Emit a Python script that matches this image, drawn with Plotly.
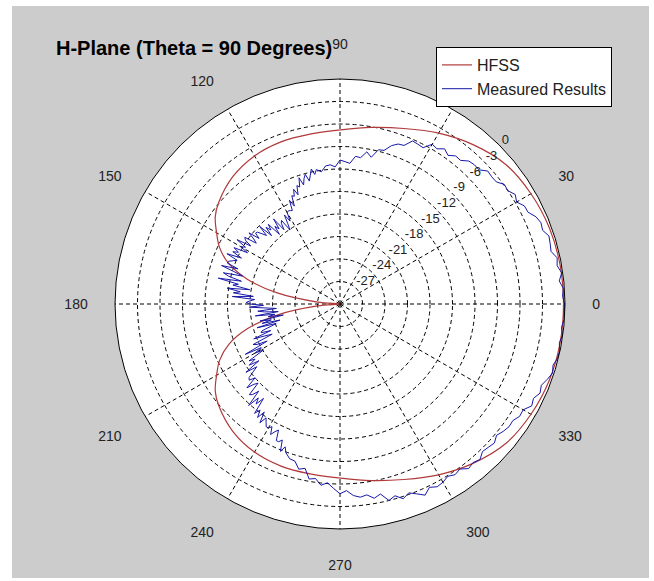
import plotly.graph_objects as go

# ---------------- data ----------------
angle_ticks = [0, 30, 60, 90, 120, 150, 180, 210, 240, 270, 300, 330]
# the 60 label sits under the legend box in the reference, so it is left blank
angle_labels = ["0", "30", "", "90", "120", "150", "180", "210", "240", "270", "300", "330"]
radial_ticks = [0, -3, -6, -9, -12, -15, -18, -21, -24, -27]
radial_labels = ["0", "-3", "-6", "-9", "-12", "-15", "-18", "-21", "-24", "-27"]
radial_label_angle = [44] * len(radial_ticks)

hfss_deg = [0, 10, 20, 30, 40, 50, 60, 70, 80, 90, 100, 110, 120, 130, 140, 145, 150, 155,
            160, 165, 170, 175, 180, 185, 190, 195, 200, 205, 210, 215, 220, 230, 240, 250,
            260, 270, 280, 290, 300, 310, 320, 330, 340, 350, 360]
hfss_db = [-0.2, -0.2, -0.3, -0.6, -1.1, -2.3, -3.7, -5.1, -6.1, -6.8, -7.0, -7.0, -7.2, -7.8,
           -8.9, -9.7, -11.0, -12.3, -14.2, -17.2, -21.5, -27.0, -30.0, -27.0, -21.5, -17.2,
           -14.2, -12.3, -11.0, -9.7, -8.9, -7.8, -7.2, -7.0, -7.0, -6.8, -6.1, -5.1, -3.7,
           -2.3, -1.1, -0.6, -0.3, -0.2, -0.2]

# measured: 2-degree steps on the strong side, 1-degree steps on the noisy back side
meas_deg = (list(range(0, 100, 2)) + list(range(100, 251))
            + list(range(252, 360, 2)) + [360])
meas_db = [
    # 0 - 98 (2 deg)
    -0.05, -0.3, -0.15, -0.6, -0.15, -0.6, -0.4, -1.0, -0.85, -0.7,
    -1.25, -1.1, -1.4, -2.1, -2.15, -2.8, -2.45, -3.0, -2.9, -3.55,
    -3.6, -3.5, -4.25, -4.2, -4.35, -5.0, -4.95, -5.5, -5.05, -5.6,
    -5.4, -6.4, -6.3, -6.2, -7.2, -7.3, -7.8, -8.7, -8.8, -10.0,
    -9.4, -10.3, -10.2, -11.2, -11.0, -10.8, -11.7, -11.4, -11.5, -12.2,
    # 100 - 119 (1 deg)
    -11.8, -12.4, -11.6, -12.4, -13.1, -12.1, -12.6, -13.4, -12.3, -13.5,
    -13.2, -14.4, -13.5, -14.4, -14.2, -15.6, -14.6, -16.0, -15.9, -15.8,
    # 120 - 159
    -15.9, -17.1, -16.0, -17.2, -18.1, -16.4, -16.7, -17.6, -15.6, -17.1,
    -16.5, -17.7, -15.7, -16.5, -15.8, -17.1, -15.1, -16.6, -16.0, -15.4,
    -15.3, -16.1, -14.6, -15.6, -16.2, -14.5, -14.8, -15.8, -13.8, -15.3,
    -14.7, -15.9, -14.0, -14.8, -14.1, -15.5, -13.5, -15.1, -14.6, -14.1,
    # 160 - 209
    -14.0, -15.6, -13.4, -15.2, -16.5, -13.9, -14.7, -16.5, -13.4, -16.2,
    -15.5, -17.8, -14.8, -16.6, -15.7, -18.4, -15.6, -18.6, -18.0, -17.5,
    -18.0, -19.8, -17.9, -20.0, -21.5, -19.0, -19.9, -21.7, -18.6, -21.2,
    -20.3, -22.3, -19.1, -20.6, -19.3, -21.7, -18.5, -21.1, -20.2, -19.0,
    -18.8, -20.1, -17.6, -19.1, -20.1, -17.2, -17.7, -19.1, -15.7, -18.0,
    # 210 - 250
    -16.9, -18.1, -15.7, -16.5, -15.4, -16.8, -14.5, -16.1, -15.3, -14.4,
    -14.2, -15.0, -13.3, -14.3, -14.8, -12.9, -13.2, -14.1, -11.8, -13.4,
    -12.6, -13.8, -11.5, -12.3, -11.3, -12.4, -10.9, -11.9, -11.4, -10.9,
    -10.9, -11.3, -10.3, -10.9, -11.3, -9.9, -9.9, -10.3, -8.8, -9.6,
    -8.9,
    # 252 - 298 (2 deg)
    -8.3, -8.2, -7.3, -7.6, -6.3, -6.5, -5.7, -6.1, -5.4, -4.7,
    -5.1, -4.4, -4.1, -4.3, -3.7, -4.1, -3.0, -3.4, -2.7, -3.2,
    -2.7, -2.1, -2.8, -2.4,
    # 300 - 358 (2 deg)
    -2.55, -2.9, -2.55, -2.8, -2.15, -2.4, -2.1, -2.65, -2.5, -2.3,
    -2.75, -2.4, -2.15, -2.2, -1.75, -1.8, -1.05, -1.3, -0.8, -1.05,
    -0.6, -0.2, -0.45, -0.1, -0.05, -0.3, -0.05, -0.3, -0.05, -0.1,
    # 360
    -0.05,
]

title_text = "H-Plane (Theta = 90 Degrees)"

# ---------------- figure ----------------
W, H = 654, 581
cx, cy, R = 340, 304, 225

fig = go.Figure()
fig.add_trace(go.Scatterpolar(
    r=hfss_db, theta=hfss_deg, mode="lines", name="HFSS",
    line=dict(color="#b03a3a", width=1.2, shape="spline"),
))
fig.add_trace(go.Scatterpolar(
    r=meas_db, theta=meas_deg, mode="lines", name="Measured Results",
    line=dict(color="#1818a8", width=1),
))
# dB ring labels, placed on the rings through the polar scales
fig.add_trace(go.Scatterpolar(
    r=radial_ticks, theta=radial_label_angle, mode="text", text=radial_labels,
    textposition="top right", textfont=dict(size=13, color="#222222"),
    showlegend=False, hoverinfo="skip", cliponaxis=False,
))

grid_dash = "4px,3px"
fig.update_layout(
    width=W, height=H,
    margin=dict(l=0, r=0, t=0, b=0),
    paper_bgcolor="white",
    font=dict(family="Liberation Sans, Arial, sans-serif", color="#222222"),
    shapes=[dict(type="rect", xref="paper", yref="paper",
                 x0=12 / W, x1=649 / W, y0=1 - 578 / H, y1=1 - 6 / H,
                 fillcolor="#cccccc", line=dict(width=0), layer="below")],
    polar=dict(
        domain=dict(x=[(cx - R) / W, (cx + R) / W],
                    y=[(H - cy - R) / H, (H - cy + R) / H]),
        bgcolor="white",
        radialaxis=dict(
            range=[-30, 0], tickvals=radial_ticks, showticklabels=False,
            angle=44, showline=False, ticks="",
            gridcolor="black", griddash=grid_dash, gridwidth=1,
        ),
        angularaxis=dict(
            rotation=0, direction="counterclockwise",
            tickvals=angle_ticks, ticktext=angle_labels,
            showline=True, linecolor="black", linewidth=1,
            gridcolor="black", griddash=grid_dash, gridwidth=1,
            ticks="outside", ticklen=24, tickcolor="rgba(0,0,0,0)",
            tickfont=dict(size=14, color="#222222"),
        ),
    ),
    title=dict(text="<b>" + title_text + "</b>", x=56 / W, xanchor="left",
               y=1 - 48 / H, yanchor="middle", xref="paper", yref="paper",
               font=dict(size=20, color="black")),
    legend=dict(x=612 / W, xanchor="right", y=1 - 47 / H, yanchor="top",
                bgcolor="white", bordercolor="black", borderwidth=1,
                itemwidth=30, font=dict(size=16, color="#222222"), tracegroupgap=0),
    showlegend=True,
)

fig.write_html("out.html", config={"displayModeBar": False},
               post_script="document.body.style.margin='0';")
